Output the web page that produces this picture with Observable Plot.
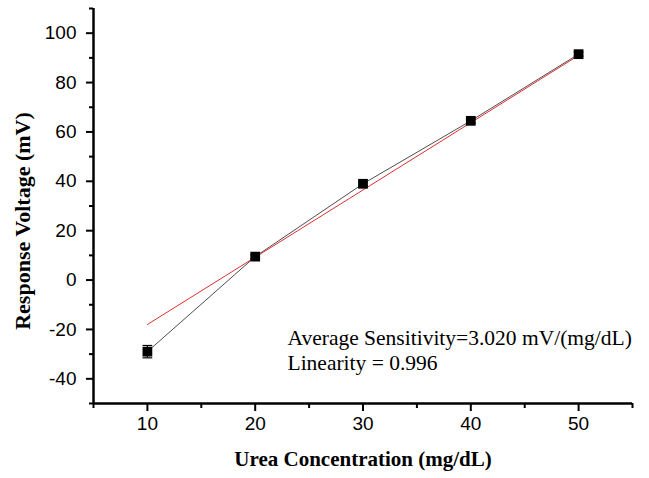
<!DOCTYPE html>
<html><head><meta charset="utf-8">
<script src="https://cdn.jsdelivr.net/npm/d3@7"></script>
<script src="https://cdn.jsdelivr.net/npm/@observablehq/plot@0.6"></script>
<style>body{margin:0;background:#fff}</style>
</head><body><div id="chart"></div>
<script>
const conc = [10, 20, 30, 40, 50];
const voltage = [-29, 9.5, 39, 64.5, 91.5];
const errs = [2.5, 0.8, 0.8, 0.8, 0.8];
const fitX = [10, 50];
const fitY = [-18, 91];
const yMajor = [-40, -20, 0, 20, 40, 60, 80, 100];
const yMinor = [-50, -30, -10, 10, 30, 50, 70, 90, 110];
const xMajor = [10, 20, 30, 40, 50];
const xMinor = [5, 15, 25, 35, 45, 55];
const note1 = "Average Sensitivity=3.020 mV/(mg/dL)";
const note2 = "Linearity = 0.996";

const pts = conc.map((x, i) => ({x, y: voltage[i], e: errs[i]}));
const fit = fitX.map((x, i) => ({x, y: fitY[i]}));
const serif = "'Liberation Serif', 'Times New Roman', serif";

const plot = Plot.plot({
  width: 649, height: 478,
  marginLeft: 93, marginRight: 17, marginTop: 8, marginBottom: 75,
  x: {domain: [5, 55]},
  y: {domain: [-50, 110]},
  style: {fontFamily: "'Liberation Sans', Arial, sans-serif", background: "#fff"},
  marks: [
    Plot.axisY({ticks: yMajor, tickSize: 7, strokeWidth: 2, tickPadding: 10, fontSize: 19, label: null, fill: "#000", tickFormat: d => String(d)}),
    Plot.axisY({ticks: yMinor, tickSize: 4, strokeWidth: 2, tickFormat: () => "", label: null}),
    Plot.axisX({ticks: xMajor, tickSize: 8, strokeWidth: 2, tickPadding: 5, fontSize: 19, label: null, fill: "#000"}),
    Plot.axisX({ticks: xMinor, tickSize: 5, strokeWidth: 2, tickFormat: () => "", label: null}),
    Plot.ruleX([5], {stroke: "#000", strokeWidth: 2.5}),
    Plot.ruleY([-50], {stroke: "#000", strokeWidth: 2.5}),
    Plot.line(pts, {x: "x", y: "y", stroke: "#222", strokeWidth: 0.8}),
    Plot.line(fit, {x: "x", y: "y", stroke: "#e03030", strokeWidth: 1}),
    Plot.ruleX(pts, {x: "x", y1: d => d.y - d.e, y2: d => d.y + d.e, stroke: "#000", strokeWidth: 1.2}),
    Plot.link(pts, {x1: d => d.x - 0.45, x2: d => d.x + 0.45, y1: d => d.y + d.e, y2: d => d.y + d.e, stroke: "#000", strokeWidth: 1.2}),
    Plot.link(pts, {x1: d => d.x - 0.45, x2: d => d.x + 0.45, y1: d => d.y - d.e, y2: d => d.y - d.e, stroke: "#000", strokeWidth: 1.2}),
    Plot.dot(pts, {x: "x", y: "y", symbol: "square", r: 5.5, fill: "#000"}),
    Plot.text([note1], {frameAnchor: "bottom-left", dx: 194, dy: -59, textAnchor: "start",
      fontFamily: serif, fontSize: 21.5, fill: "#000"}),
    Plot.text([note2], {frameAnchor: "bottom-left", dx: 194, dy: -34, textAnchor: "start",
      fontFamily: serif, fontSize: 21.5, fill: "#000"}),
    Plot.text(["Response Voltage (mV)"], {frameAnchor: "left", dx: -71, dy: 15, rotate: -90, textAnchor: "middle",
      fontFamily: serif, fontSize: 22, fontWeight: "bold", fill: "#000"}),
    Plot.text(["Urea Concentration (mg/dL)"], {frameAnchor: "bottom", dy: 62,
      fontFamily: serif, fontSize: 21, fontWeight: "bold", fill: "#000"})
  ]
});
document.getElementById("chart").appendChild(plot);
</script>
</body></html>
